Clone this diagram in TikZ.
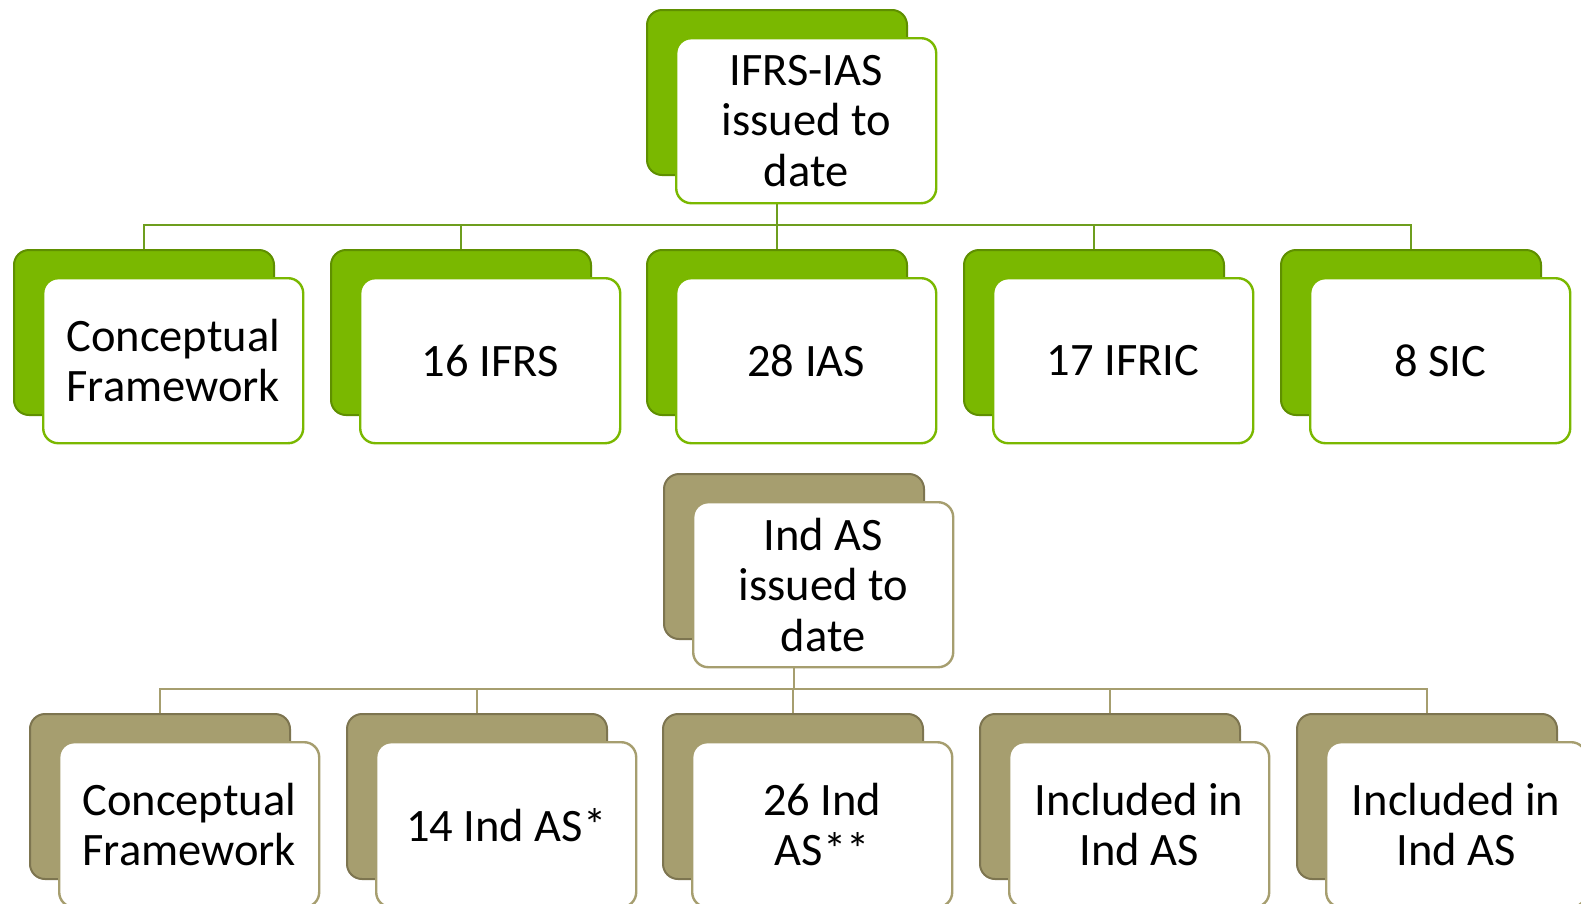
\documentclass[tikz,border=0pt]{standalone}
\usepackage{fontspec}
\setmainfont{Carlito}
\usetikzlibrary{backgrounds}
\definecolor{gfill}{HTML}{7AB800}
\definecolor{gdark}{HTML}{5F8F00}
\definecolor{gline}{HTML}{6E9E1E}
\definecolor{tfill}{HTML}{A69E6F}
\definecolor{tdark}{HTML}{7D7550}
\definecolor{tline}{HTML}{A69E6F}
\tikzset{
  card/.style={rectangle, rounded corners=15pt, minimum width=260pt, minimum height=165pt, inner sep=0pt, anchor=north west},
  gback/.style={card, fill=gfill, draw=gdark, line width=2pt},
  gfront/.style={card, fill=white, draw=gfill, line width=2.4pt, align=center, font=\fontsize{46.5}{50.5}\selectfont, text=black},
  tback/.style={card, fill=tfill, draw=tdark, line width=2pt},
  tfront/.style={card, fill=white, draw=tfill, line width=2.4pt, align=center, font=\fontsize{46.5}{50.5}\selectfont, text=black},
  glink/.style={draw=gline, line width=2pt},
  tlink/.style={draw=tline, line width=2pt},
}
% a card: back panel plus the white label panel offset down and right
\newcommand\cardpair[5]{%
  \node[#4back] (#1-b) at (#2,#3) {};
  \node[#4front] (#1) at (#2+29,#3+28) {#5};
}
\begin{document}
\begin{tikzpicture}[x=1pt,y=-1pt]
\useasboundingbox (0,0) rectangle (1581,903);
\clip (0,0) rectangle (1581,903);

% IFRS tree
\cardpair{ifrs}{646}{9}{g}{IFRS-IAS\\issued to\\date}
\cardpair{g1}{13}{249}{g}{Conceptual\\Framework}
\cardpair{g2}{330}{249}{g}{16 IFRS}
\cardpair{g3}{646}{249}{g}{28 IAS}
\cardpair{g4}{963}{249}{g}{17 IFRIC}
\cardpair{g5}{1280}{249}{g}{8 SIC}
\coordinate (busg) at (0,225);

% Ind AS tree
\cardpair{ind}{663}{473}{t}{Ind AS\\issued to\\date}
\cardpair{t1}{29}{713}{t}{Conceptual\\Framework}
\cardpair{t2}{346}{713}{t}{14 Ind AS*}
\cardpair{t3}{662}{713}{t}{26 Ind\\AS**}
\cardpair{t4}{979}{713}{t}{Included in\\Ind AS}
\cardpair{t5}{1296}{713}{t}{Included in\\Ind AS}
\coordinate (bust) at (0,689);

\begin{scope}[on background layer]
  \fill[white] (0,0) rectangle (1581,903);
  \foreach \c in {g1,g2,g3,g4,g5}
    \draw[glink] (ifrs-b.south) -- (ifrs-b.south |- busg) -| (\c-b.north);
  \foreach \c in {t1,t2,t3,t4,t5}
    \draw[tlink] (ind-b.south) -- (ind-b.south |- bust) -| (\c-b.north);
\end{scope}
\end{tikzpicture}
\end{document}
